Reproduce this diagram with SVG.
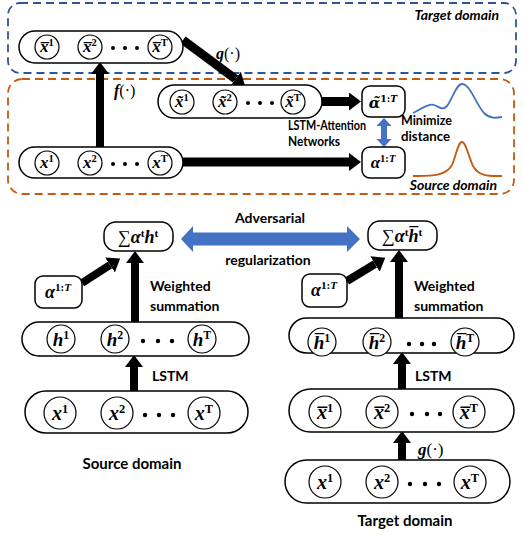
<svg xmlns="http://www.w3.org/2000/svg" width="524" height="536" viewBox="0 0 524 536">
<defs>
<style>
.pill{fill:#fff;stroke:#000;stroke-width:1.5}
.circ{fill:#fff;stroke:#000;stroke-width:1.2}
.box{fill:#fff;stroke:#000;stroke-width:1.5}
.m{font-family:"Liberation Serif","DejaVu Serif",serif;font-style:italic;font-weight:bold;text-anchor:middle}
.s{font-size:0.62em;font-style:normal}
.lbl{font-family:Lato,"Open Sans","Liberation Sans",sans-serif;font-weight:bold;font-size:14px;fill:#000}
.dom{font-family:Lato,"Open Sans","Liberation Sans",sans-serif;font-weight:bold;font-size:15px;text-anchor:middle}
.arr{stroke:#000;fill:none}
.dot{fill:#000}
</style>
<marker id="ah" markerUnits="userSpaceOnUse" markerWidth="14" markerHeight="20" refX="0" refY="9" orient="auto">
<path d="M0,0 L12,9 L0,18 Z" fill="#000"/>
</marker>
</defs>
<rect width="524" height="536" fill="#fff"/>

<g id="target-domain-box">
<rect x="8" y="3" width="508" height="70" rx="12" fill="none" stroke="#2F5597" stroke-width="1.8" stroke-dasharray="8,5"/>
<text x="499" y="20" class="lbl" text-anchor="end" font-style="italic" font-size="13.5">Target domain</text>
</g>
<g id="source-domain-box">
<rect x="8" y="79" width="506" height="115" rx="14" fill="none" stroke="#C55A11" stroke-width="1.8" stroke-dasharray="8,5"/>
<text x="497" y="190" class="lbl" text-anchor="end" font-style="italic" font-size="13.5">Source domain</text>
</g>

<g id="connectors">
<line class="arr" x1="100" y1="148" x2="100" y2="74" stroke-width="8" marker-end="url(#ah)"/>
<line class="arr" x1="183" y1="40" x2="235.5" y2="79" stroke-width="9" marker-end="url(#ah)"/>
<line class="arr" x1="322" y1="101.5" x2="349" y2="101.5" stroke-width="9" marker-end="url(#ah)"/>
<line class="arr" x1="183" y1="162" x2="349" y2="162" stroke-width="9" marker-end="url(#ah)"/>
<polygon points="384,118 391.5,126 387,126 387,139 391.5,139 384,147 376.5,139 381,139 381,126 376.5,126" fill="#4472C4"/>
<polygon points="181,239 193,226 193,232.5 347,232.5 347,226 360,239 347,252 347,245.5 193,245.5 193,252" fill="#4472C4"/>
<line class="arr" x1="135" y1="322" x2="135" y2="263" stroke-width="8" marker-end="url(#ah)"/>
<line class="arr" x1="82" y1="283" x2="110" y2="265" stroke-width="8" marker-end="url(#ah)"/>
<line class="arr" x1="134" y1="391" x2="134" y2="367" stroke-width="8" marker-end="url(#ah)"/>
<line class="arr" x1="399" y1="318" x2="399" y2="262" stroke-width="8" marker-end="url(#ah)"/>
<line class="arr" x1="347" y1="281" x2="375" y2="264" stroke-width="8" marker-end="url(#ah)"/>
<line class="arr" x1="402" y1="389" x2="402" y2="364" stroke-width="8" marker-end="url(#ah)"/>
<line class="arr" x1="402" y1="460" x2="402" y2="443" stroke-width="8" marker-end="url(#ah)"/>
<path d="M413,113 C420,110 428,103 434,105 C440,107 442,111 447,106 C452,100 456,84 462,84 C470,84 476,104 484,113 C490,119 496,118 502,117" fill="none" stroke="#4472C4" stroke-width="1.8"/>
<path d="M413,176 C430,176 445,177 452,165 C456,156 458,142 462,142 C466,142 469,158 473,166 C479,177 490,176 502,176" fill="none" stroke="#C55A11" stroke-width="1.8"/>
</g>

<g id="labels">
<text x="114" y="96" class="m" font-size="16" style="text-anchor:start">f<tspan font-style="normal" font-weight="normal">(·)</tspan></text>
<text x="216" y="59" class="m" font-size="16" style="text-anchor:start">g<tspan font-style="normal" font-weight="normal">(·)</tspan></text>
<text x="288" y="130" class="lbl" font-size="12" textLength="78" lengthAdjust="spacingAndGlyphs">LSTM-Attention</text>
<text x="288" y="146" class="lbl" font-size="12" textLength="52" lengthAdjust="spacingAndGlyphs">Networks</text>
<text x="401" y="125" class="lbl" font-size="12" textLength="51" lengthAdjust="spacingAndGlyphs">Minimize</text>
<text x="401" y="141" class="lbl" font-size="12" textLength="49" lengthAdjust="spacingAndGlyphs">distance</text>
<text x="270" y="223" class="lbl" font-size="14.5" text-anchor="middle">Adversarial</text>
<text x="268" y="265" class="lbl" font-size="14.5" text-anchor="middle">regularization</text>
<text x="150" y="291" class="lbl">Weighted</text>
<text x="150" y="311" class="lbl" font-size="14.5">summation</text>
<text x="414" y="291" class="lbl">Weighted</text>
<text x="414" y="311" class="lbl" font-size="14.5">summation</text>
<text x="152" y="381" class="lbl">LSTM</text>
<text x="415" y="381" class="lbl">LSTM</text>
<text x="418" y="455" class="m" font-size="17" style="text-anchor:start">g<tspan font-style="normal" font-weight="normal">(·)</tspan></text>
<text x="132" y="469" class="dom">Source domain</text>
<text x="405" y="526" class="dom">Target domain</text>
</g>

<g id="xbar-top" font-size="17">
<rect class="pill" x="19" y="31" width="164" height="32" rx="16"/>
<circle class="circ" cx="47" cy="47" r="12"/>
<circle class="circ" cx="90" cy="47" r="12"/>
<circle class="circ" cx="160" cy="47" r="12"/>
<circle class="dot" cx="113" cy="48" r="2"/><circle class="dot" cx="125" cy="48" r="2"/><circle class="dot" cx="137" cy="48" r="2"/>
<text class="m" x="47" y="52">x̅<tspan class="s" dy="-6">1</tspan></text>
<text class="m" x="90" y="52">x̅<tspan class="s" dy="-6">2</tspan></text>
<text class="m" x="160" y="52">x̅<tspan class="s" dy="-6" font-style="italic">T</tspan></text>
</g>

<g id="xtilde-top" font-size="17">
<rect class="pill" x="158" y="85" width="164" height="33" rx="16.5"/>
<circle class="circ" cx="182" cy="102" r="12"/>
<circle class="circ" cx="225" cy="102" r="12"/>
<circle class="circ" cx="293" cy="102" r="12"/>
<circle class="dot" cx="248" cy="103" r="2"/><circle class="dot" cx="260" cy="103" r="2"/><circle class="dot" cx="272" cy="103" r="2"/>
<text class="m" x="182" y="107">x̃<tspan class="s" dy="-6">1</tspan></text>
<text class="m" x="225" y="107">x̃<tspan class="s" dy="-6">2</tspan></text>
<text class="m" x="293" y="107">x̃<tspan class="s" dy="-6" font-style="italic">T</tspan></text>
</g>

<g id="x-top" font-size="17">
<rect class="pill" x="19" y="147" width="164" height="31" rx="15.5"/>
<circle class="circ" cx="47" cy="163" r="12"/>
<circle class="circ" cx="90" cy="163" r="12"/>
<circle class="circ" cx="160" cy="163" r="12"/>
<circle class="dot" cx="113" cy="164" r="2"/><circle class="dot" cx="125" cy="164" r="2"/><circle class="dot" cx="137" cy="164" r="2"/>
<text class="m" x="47" y="168">x<tspan class="s" dy="-6">1</tspan></text>
<text class="m" x="90" y="168">x<tspan class="s" dy="-6">2</tspan></text>
<text class="m" x="160" y="168">x<tspan class="s" dy="-6" font-style="italic">T</tspan></text>
</g>

<g id="alpha-tilde" font-size="17">
<rect class="box" x="362" y="86" width="43" height="31" rx="8"/>
<text class="m" x="383" y="108" style="font-family:'DejaVu Serif',serif" font-size="15">α̃<tspan class="s" dy="-6" font-size="10.5">1:<tspan font-style="italic">T</tspan></tspan></text>
</g>
<g id="alpha-top" font-size="17">
<rect class="box" x="362" y="147" width="43" height="31" rx="8"/>
<text class="m" x="383" y="168">α<tspan class="s" dy="-6">1:<tspan font-style="italic">T</tspan></tspan></text>
</g>

<g id="sum-source" font-size="18">
<rect class="box" x="104" y="222" width="69" height="29" rx="12"/>
<text class="m" x="138" y="243"><tspan font-style="normal" font-weight="normal">∑</tspan>α<tspan class="s" dy="-6">t</tspan><tspan dy="6">h</tspan><tspan class="s" dy="-6">t</tspan></text>
</g>
<g id="alpha-source" font-size="18">
<rect class="box" x="35" y="276" width="47" height="32" rx="8"/>
<text class="m" x="58" y="298">α<tspan class="s" dy="-7">1:<tspan font-style="italic">T</tspan></tspan></text>
</g>
<g id="h-source" font-size="19">
<rect class="pill" x="22" y="322" width="227" height="34" rx="17"/>
<circle class="circ" cx="61" cy="339" r="14"/>
<circle class="circ" cx="115" cy="339" r="14"/>
<circle class="circ" cx="202" cy="339" r="14"/>
<circle class="dot" cx="143" cy="341" r="2.2"/><circle class="dot" cx="158" cy="341" r="2.2"/><circle class="dot" cx="172" cy="341" r="2.2"/>
<text class="m" x="61" y="346">h<tspan class="s" dy="-7">1</tspan></text>
<text class="m" x="115" y="346">h<tspan class="s" dy="-7">2</tspan></text>
<text class="m" x="202" y="346">h<tspan class="s" dy="-7" font-style="italic">T</tspan></text>
</g>
<g id="x-source" font-size="20">
<rect class="pill" x="25" y="391" width="223" height="42" rx="21"/>
<circle class="circ" cx="60" cy="413" r="16"/>
<circle class="circ" cx="117" cy="413" r="16"/>
<circle class="circ" cx="204" cy="413" r="16"/>
<circle class="dot" cx="145" cy="415" r="2.2"/><circle class="dot" cx="159" cy="415" r="2.2"/><circle class="dot" cx="173" cy="415" r="2.2"/>
<text class="m" x="60" y="420">x<tspan class="s" dy="-7">1</tspan></text>
<text class="m" x="117" y="420">x<tspan class="s" dy="-7">2</tspan></text>
<text class="m" x="204" y="420">x<tspan class="s" dy="-7" font-style="italic">T</tspan></text>
</g>

<g id="sum-target" font-size="18">
<rect class="box" x="368" y="221" width="69" height="29" rx="12"/>
<text class="m" x="402" y="242"><tspan font-style="normal" font-weight="normal">∑</tspan>α<tspan class="s" dy="-6">t</tspan><tspan dy="6">h̅</tspan><tspan class="s" dy="-6">t</tspan></text>
</g>
<g id="alpha-target" font-size="18">
<rect class="box" x="302" y="274" width="45" height="33" rx="8"/>
<text class="m" x="324" y="296">α<tspan class="s" dy="-7">1:<tspan font-style="italic">T</tspan></tspan></text>
</g>
<g id="h-target" font-size="19">
<rect class="pill" x="289" y="318" width="225" height="35" rx="17.5"/>
<circle class="circ" cx="322" cy="342" r="14"/>
<circle class="circ" cx="377" cy="342" r="14"/>
<circle class="circ" cx="465" cy="342" r="14"/>
<circle class="dot" cx="409" cy="344" r="2.2"/><circle class="dot" cx="422" cy="344" r="2.2"/><circle class="dot" cx="434" cy="344" r="2.2"/>
<text class="m" x="322" y="349">h̅<tspan class="s" dy="-7">1</tspan></text>
<text class="m" x="377" y="349">h̅<tspan class="s" dy="-7">2</tspan></text>
<text class="m" x="465" y="349">h̅<tspan class="s" dy="-7" font-style="italic">T</tspan></text>
</g>
<g id="xbar-target" font-size="20">
<rect class="pill" x="289" y="389" width="225" height="43" rx="21.5"/>
<circle class="circ" cx="325" cy="412" r="16"/>
<circle class="circ" cx="382" cy="412" r="16"/>
<circle class="circ" cx="469" cy="412" r="16"/>
<circle class="dot" cx="412" cy="414" r="2.2"/><circle class="dot" cx="427" cy="414" r="2.2"/><circle class="dot" cx="440" cy="414" r="2.2"/>
<text class="m" x="325" y="419">x̅<tspan class="s" dy="-7">1</tspan></text>
<text class="m" x="382" y="419">x̅<tspan class="s" dy="-7">2</tspan></text>
<text class="m" x="469" y="419">x̅<tspan class="s" dy="-7" font-style="italic">T</tspan></text>
</g>
<g id="x-target" font-size="20">
<rect class="pill" x="285" y="460" width="225" height="43" rx="21.5"/>
<circle class="circ" cx="325" cy="482" r="16"/>
<circle class="circ" cx="382" cy="482" r="16"/>
<circle class="circ" cx="470" cy="482" r="16"/>
<circle class="dot" cx="410" cy="484" r="2.2"/><circle class="dot" cx="425" cy="484" r="2.2"/><circle class="dot" cx="439" cy="484" r="2.2"/>
<text class="m" x="325" y="489">x<tspan class="s" dy="-7">1</tspan></text>
<text class="m" x="382" y="489">x<tspan class="s" dy="-7">2</tspan></text>
<text class="m" x="470" y="489">x<tspan class="s" dy="-7" font-style="italic">T</tspan></text>
</g>
</svg>
